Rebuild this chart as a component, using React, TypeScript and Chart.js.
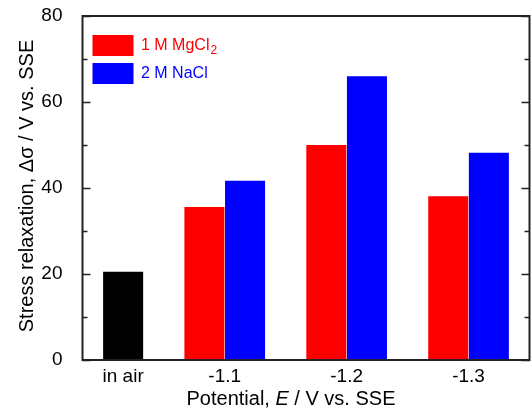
import { useEffect, useRef } from "react";
import { Chart, registerables } from "chart.js";

Chart.register(...registerables);

// ---- data ----
const categories = ["in air", "-1.1", "-1.2", "-1.3"];
const categorySlots = [0, 2.5, 5.5, 8.5]; // slot position of each category label
const airSlots = [0];
const airValues = [20.5];
const mgcl2Slots = [2, 5, 8];
const mgcl2Values = [35.6, 50.0, 38.1];
const naclSlots = [3, 6, 9];
const naclValues = [41.7, 66.0, 48.2];
const yMajorTicks = [0, 20, 40, 60, 80];
const yMinorTicks = [10, 30, 50, 70];
const legendLabels = ["1 M MgCl", "2 M NaCl"];

const FONT = '"Liberation Sans", Arial, Helvetica, sans-serif';

const decorPlugin = {
  id: "decor",
  afterDraw(chart: any) {
    const { ctx, chartArea } = chart;
    const { left, right, top, bottom } = chartArea;
    const y = chart.scales.y;
    ctx.save();
    // frame
    ctx.strokeStyle = "#222222";
    ctx.lineWidth = 2;
    ctx.strokeRect(left, top, right - left, bottom - top);
    // inward ticks on left and right
    ctx.lineWidth = 1.6;
    const tick = (v: number, len: number) => {
      const py = Math.round(y.getPixelForValue(v)) + 0.5;
      ctx.beginPath();
      ctx.moveTo(left, py);
      ctx.lineTo(left + len, py);
      ctx.moveTo(right, py);
      ctx.lineTo(right - len, py);
      ctx.stroke();
    };
    yMajorTicks.forEach((v) => tick(v, 8));
    yMinorTicks.forEach((v) => tick(v, 5));

    // legend
    const colors = ["#ff0000", "#0000ff"];
    const boxX = 92.5;
    const boxY = [35, 63];
    ctx.textBaseline = "alphabetic";
    ctx.textAlign = "left";
    legendLabels.forEach((label, i) => {
      ctx.fillStyle = colors[i];
      ctx.fillRect(boxX, boxY[i], 41, 21);
      ctx.font = `16px ${FONT}`;
      const tx = 141;
      const ty = boxY[i] + 15;
      ctx.fillText(label, tx, ty);
      if (i === 0) {
        const w = ctx.measureText(label).width;
        ctx.font = `12px ${FONT}`;
        ctx.fillText("2", tx + w + 1, ty + 4);
      }
    });

    // y title
    ctx.fillStyle = "#000000";
    ctx.font = `20px ${FONT}`;
    ctx.save();
    ctx.translate(27, 186);
    ctx.rotate(-Math.PI / 2);
    ctx.textAlign = "center";
    ctx.textBaseline = "middle";
    ctx.fillText("Stress relaxation, \u0394\u03c3 / V vs. SSE", 0, 0);
    ctx.restore();

    // x title with italic E
    const parts = [
      { t: "Potential, ", f: `20px ${FONT}` },
      { t: "E", f: `italic 20px ${FONT}` },
      { t: " / V vs. SSE", f: `20px ${FONT}` },
    ];
    let total = 0;
    parts.forEach((p) => {
      ctx.font = p.f;
      total += ctx.measureText(p.t).width;
    });
    let x = 291 - total / 2;
    ctx.textAlign = "left";
    ctx.textBaseline = "middle";
    parts.forEach((p) => {
      ctx.font = p.f;
      ctx.fillText(p.t, x, 399);
      x += ctx.measureText(p.t).width;
    });
    ctx.restore();
  },
};

export default function App() {
  const ref = useRef<HTMLCanvasElement>(null);
  useEffect(() => {
    document.body.style.margin = "0";
    const toPts = (xs: number[], ys: number[]) => xs.map((x, i) => ({ x, y: ys[i] }));
    const chart = new Chart(ref.current!, {
      type: "bar",
      data: {
        datasets: [
          { label: "in air", data: toPts(airSlots, airValues), backgroundColor: "#000000" },
          { label: "1 M MgCl2", data: toPts(mgcl2Slots, mgcl2Values), backgroundColor: "#ff0000" },
          { label: "2 M NaCl", data: toPts(naclSlots, naclValues), backgroundColor: "#0000ff" },
        ],
      },
      options: {
        animation: false,
        responsive: false,
        events: [],
        layout: { padding: { top: 16, right: 1.5, left: 0, bottom: 0 } },
        datasets: {
          bar: { grouped: false, barPercentage: 0.985, categoryPercentage: 1, borderWidth: 0 },
        },
        plugins: { legend: { display: false }, tooltip: { enabled: false } },
        scales: {
          x: {
            type: "linear",
            min: -1,
            max: 10,
            offset: false,
            grid: { display: false, drawTicks: false },
            border: { display: false },
            afterBuildTicks: (scale: any) => {
              scale.ticks = categorySlots.map((v) => ({ value: v }));
            },
            afterFit: (scale: any) => {
              scale.height = 54;
              scale.paddingLeft = 0;
              scale.paddingRight = 0;
            },
            ticks: {
              autoSkip: false,
              maxRotation: 0,
              padding: 5,
              color: "#000000",
              font: { family: FONT, size: 19 },
              callback: (v: any) => {
                const i = categorySlots.indexOf(Number(v));
                return i >= 0 ? categories[i] : "";
              },
            },
          },
          y: {
            min: 0,
            max: 80,
            grid: { display: false, drawTicks: false },
            border: { display: false },
            afterBuildTicks: (scale: any) => {
              scale.ticks = yMajorTicks.map((v) => ({ value: v }));
            },
            afterFit: (scale: any) => {
              scale.width = 82.5;
              scale.paddingTop = 0;
              scale.paddingBottom = 0;
            },
            ticks: {
              padding: 20,
              color: "#000000",
              font: { family: FONT, size: 19 },
            },
          },
        },
      },
      plugins: [decorPlugin],
    });
    return () => chart.destroy();
  }, []);
  return <canvas ref={ref} width={531} height={414} />;
}
